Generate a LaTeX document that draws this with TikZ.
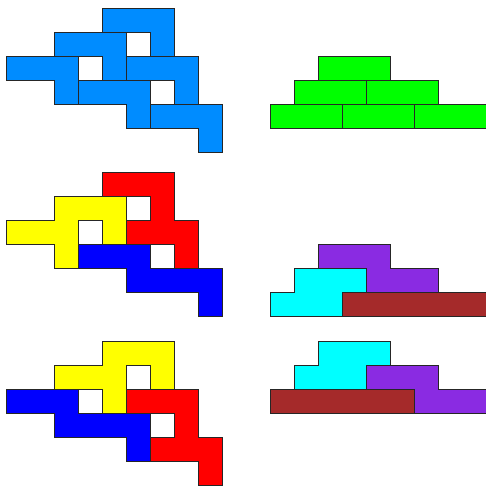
\documentclass[tikz,border=0pt]{standalone}
\definecolor{skyb}{RGB}{0,140,255}
\definecolor{grn}{RGB}{0,255,0}
\definecolor{yel}{RGB}{255,255,0}
\definecolor{rd}{RGB}{255,0,0}
\definecolor{bl}{RGB}{0,0,255}
\definecolor{cy}{RGB}{0,255,255}
\definecolor{pur}{RGB}{138,43,226}
\definecolor{brn}{RGB}{165,42,42}
\tikzset{
  piece/.style={draw=black!85, line width=0.7pt, line join=miter, fill=#1}
}
\begin{document}
\begin{tikzpicture}[x=0.5cm, y=-0.5cm]
\useasboundingbox (-0.2708,0) rectangle (19.979,20.25);
% ---------- Figure 1 ----------
\begin{scope}[yshift=-0.346*0.5cm]
  \foreach \a/\b in {4/0,2/1,0/2,5/2,3/3,6/4}{
    \path[piece=skyb] (\a,\b) -- ++(3,0) -- ++(0,2) -- ++(-1,0) -- ++(0,-1) -- ++(-2,0) -- cycle;
  }
  \foreach \a/\b in {13/2,12/3,15/3,11/4,14/4,17/4}{
    \path[piece=grn] (\a,\b) rectangle ++(3,1);
  }
\end{scope}
% ---------- Figure 2 ----------
\begin{scope}[yshift=-7.1875*0.5cm]
  \path[piece=rd] (4,0) -- (7,0) -- (7,2) -- (8,2) -- (8,4) -- (7,4) -- (7,3) -- (5,3) -- (5,2) -- (6,2) -- (6,1) -- (4,1) -- cycle;
  \path[piece=yel] (2,1) -- (5,1) -- (5,3) -- (4,3) -- (4,2) -- (3,2) -- (3,4) -- (2,4) -- (2,3) -- (0,3) -- (0,2) -- (2,2) -- cycle;
  \path[piece=bl] (3,3) -- (6,3) -- (6,4) -- (9,4) -- (9,6) -- (8,6) -- (8,5) -- (5,5) -- (5,4) -- (3,4) -- cycle;
  \path[piece=pur] (13,3) -- (16,3) -- (16,4) -- (18,4) -- (18,5) -- (15,5) -- (15,4) -- (13,4) -- cycle;
  \path[piece=cy] (12,4) -- (15,4) -- (15,5) -- (14,5) -- (14,6) -- (11,6) -- (11,5) -- (12,5) -- cycle;
  \path[piece=brn] (14,5) rectangle (20,6);
\end{scope}
% ---------- Figure 3 ----------
\begin{scope}[yshift=-14.217*0.5cm]
  \path[piece=yel] (4,0) -- (7,0) -- (7,2) -- (6,2) -- (6,1) -- (5,1) -- (5,3) -- (4,3) -- (4,2) -- (2,2) -- (2,1) -- (4,1) -- cycle;
  \path[piece=bl] (0,2) -- (3,2) -- (3,3) -- (6,3) -- (6,5) -- (5,5) -- (5,4) -- (2,4) -- (2,3) -- (0,3) -- cycle;
  \path[piece=rd] (5,2) -- (8,2) -- (8,4) -- (9,4) -- (9,6) -- (8,6) -- (8,5) -- (6,5) -- (6,4) -- (7,4) -- (7,3) -- (5,3) -- cycle;
  \path[piece=cy] (13,0) -- (16,0) -- (16,1) -- (15,1) -- (15,2) -- (12,2) -- (12,1) -- (13,1) -- cycle;
  \path[piece=pur] (15,1) -- (18,1) -- (18,2) -- (20,2) -- (20,3) -- (17,3) -- (17,2) -- (15,2) -- cycle;
  \path[piece=brn] (11,2) rectangle (17,3);
\end{scope}
\end{tikzpicture}
\end{document}
